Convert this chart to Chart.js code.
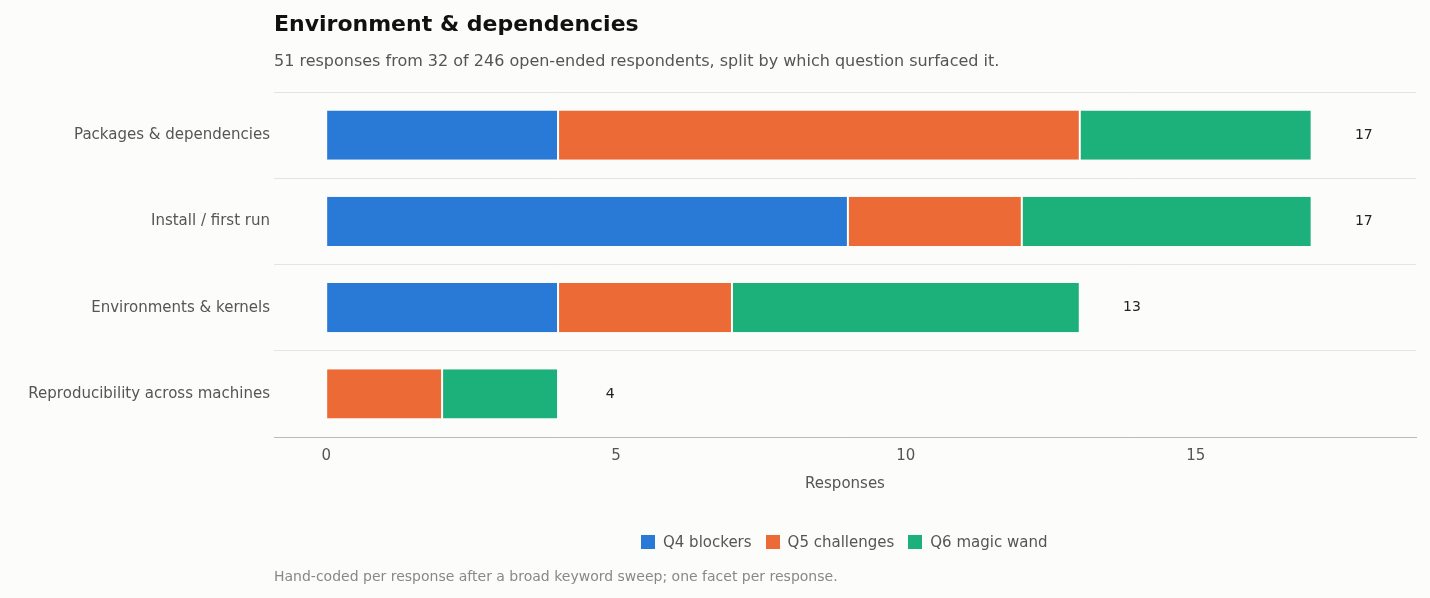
<!DOCTYPE html>
<html>
<head>
<meta charset="utf-8">
<script src="https://cdn.jsdelivr.net/npm/chart.js@4"></script>
<style>
  body { margin: 0; background: #fcfcfb; font-family: "DejaVu Sans", sans-serif; }
  #wrap { position: relative; width: 1430px; height: 598px; }
  canvas { position: absolute; left: 0; top: 0; }
  .title { position: absolute; left: 274px; top: 11px; font-size: 22px; font-weight: bold; color: #111; }
  .sub { position: absolute; left: 274px; top: 51px; font-size: 16px; color: #555; }
  .legend { position: absolute; left: 641px; top: 533px; font-size: 15px; color: #555; display: flex; gap: 14px; }
  .legend span.sw { display: inline-block; width: 14px; height: 14px; margin-right: 8px; vertical-align: -2px; }
  .foot { position: absolute; left: 274px; top: 568px; font-size: 14px; color: #888; }
</style>
</head>
<body>
<div id="wrap">
  <canvas id="chart" width="1430" height="598"></canvas>
  <div class="title">Environment &amp; dependencies</div>
  <div class="sub">51 responses from 32 of 246 open-ended respondents, split by which question surfaced it.</div>
  <div class="legend" id="legend"></div>
  <div class="foot">Hand-coded per response after a broad keyword sweep; one facet per response.</div>
</div>
<script>
const categories = ['Packages & dependencies', 'Install / first run', 'Environments & kernels', 'Reproducibility across machines'];
const seriesNames = ['Q4 blockers', 'Q5 challenges', 'Q6 magic wand'];
const q4 = [4, 9, 4, 0];
const q5 = [9, 3, 3, 2];
const q6 = [4, 5, 6, 2];
const xTicks = [0, 5, 10, 15];
const colors = ['#2979d6', '#ec6a36', '#1cb07b'];

document.addEventListener('DOMContentLoaded', () => {
    const lg = document.getElementById('legend');
    seriesNames.forEach((n, i) => {
        lg.innerHTML += '<div><span class="sw" style="background:' + colors[i] + '"></span>' + n + '</div>';
    });
    displayChart();
});

function displayChart() {
    const totals = categories.map((c, i) => q4[i] + q5[i] + q6[i]);
    const totalLabels = {
        id: 'totalLabels',
        afterDatasetsDraw(chart) {
            const ctx = chart.ctx;
            const x = chart.scales.x, y = chart.scales.y;
            ctx.save();
            ctx.font = '14px "DejaVu Sans"';
            ctx.fillStyle = '#222';
            ctx.textAlign = 'center';
            ctx.textBaseline = 'middle';
            totals.forEach((t, i) => {
                ctx.fillText(String(t), x.getPixelForValue(t + 0.9), y.getPixelForValue(i));
            });
            ctx.restore();
        }
    };

    const ctx = document.getElementById('chart').getContext('2d');
    new Chart(ctx, {
        type: 'bar',
        data: {
            labels: categories,
            datasets: [q4, q5, q6].map((d, i) => ({
                label: seriesNames[i],
                data: d,
                backgroundColor: colors[i],
                borderColor: '#ffffff',
                borderWidth: { left: 1, right: 1 },
                borderSkipped: false,
                barPercentage: 0.57,
                categoryPercentage: 1
            }))
        },
        options: {
            indexAxis: 'y',
            responsive: false,
            animation: false,
            layout: { padding: { top: 92, right: 14, bottom: 101, left: 0 } },
            plugins: { legend: { display: false }, tooltip: { enabled: false } },
            scales: {
                x: {
                    stacked: true,
                    min: -0.9,
                    max: 18.8,
                    afterBuildTicks: (s) => { s.ticks = xTicks.map(v => ({ value: v })); },
                    afterFit: (s) => { s.height = 60; },
                    grid: { display: false },
                    border: { color: '#bbbbbb' },
                    ticks: { color: '#555', font: { size: 15, family: 'DejaVu Sans' }, padding: 2 },
                    title: { display: true, text: 'Responses', color: '#555', font: { size: 15, family: 'DejaVu Sans' }, padding: { top: 12 } }
                },
                y: {
                    stacked: true,
                    afterFit: (s) => { s.width = 274; },
                    grid: { color: '#e4e4e4', drawTicks: false },
                    border: { display: false },
                    ticks: { color: '#555', font: { size: 15, family: 'DejaVu Sans' }, padding: 4 }
                }
            }
        },
        plugins: [totalLabels]
    });
}
</script>
</body>
</html>
